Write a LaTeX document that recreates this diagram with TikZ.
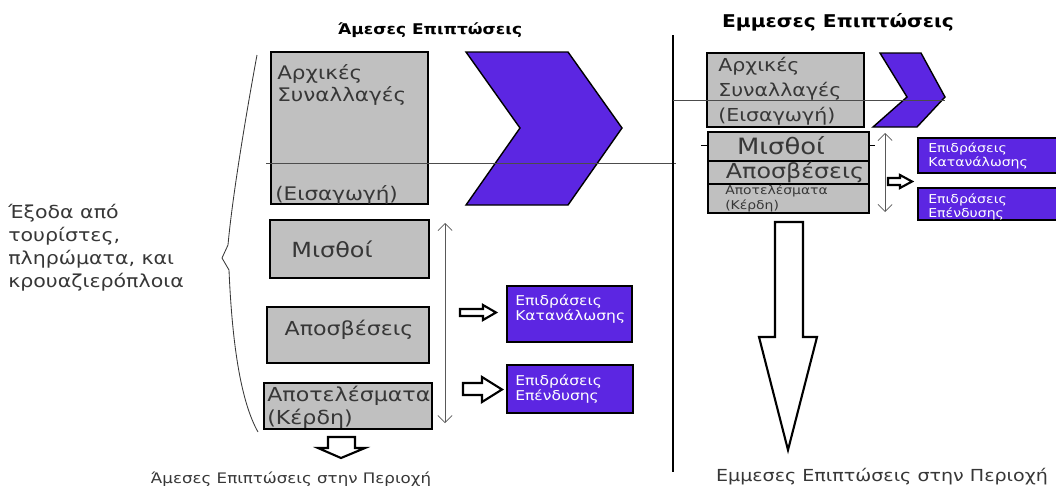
\documentclass[tikz,border=0pt]{standalone}
\usepackage{fontspec}
\setmainfont{DejaVu Sans}[FakeStretch=1.15]
\usetikzlibrary{fit,arrows.meta}
\definecolor{boxgrey}{RGB}{192,192,192}
\definecolor{chevpurple}{RGB}{92,38,226}
\definecolor{inkgrey}{RGB}{55,55,55}
\begin{document}
\begin{tikzpicture}[x=0.025cm,y=-0.025cm,
  every node/.style={inner sep=0pt},
  greybox/.style={draw=black,line width=1.5pt,fill=boxgrey,inner sep=0pt},
  purplebox/.style={draw=black,line width=1.2pt,fill=chevpurple,inner sep=0pt},
  chevron/.style={draw=black,line width=1pt,fill=chevpurple,line join=miter},
  boxtext/.style={text=inkgrey,align=left,font=\fontsize{13.3}{16}\selectfont},
  purpletext/.style={text=white,align=left,font=\fontsize{9.6}{11}\selectfont},
  blockarrow/.style={draw=black,line width=1.5pt,fill=white,line join=miter},
  rangearrow/.style={draw=gray!70!black,line width=0.5pt,{Straight Barb[length=5pt,width=10pt]}-{Straight Barb[length=5pt,width=10pt]}},
  crossline/.style={draw=gray!60!black,line width=0.6pt},
  title/.style={font=\bfseries\fontsize{10.5}{12}\selectfont,text=black}]
\useasboundingbox (0,0) rectangle (1056,488);
% left half: direct effects
\node[title] (ltitle) at (430,30) {Άμεσες Επιπτώσεις};
\node[greybox,fit={(271,52) (428,204)}] (linit) {};
\node[boxtext,anchor=north west] (linittop) at (277,64) {Αρχικές\\Συναλλαγές};
\node[boxtext,anchor=west] (linitbot) at (275,195) {(Εισαγωγή)};
\draw[chevron] (466,52) -- (568,52) -- (622,128) -- (568,205) -- (466,205) -- (520,128) -- cycle;
\coordinate (lline) at (266,163);
\coordinate (llineend) at (676,163);
\draw[crossline] (lline) -- (llineend);
\node[greybox,fit={(270,220) (429,278)}] (lwage) {};
\node[boxtext,font=\fontsize{14.8}{17}\selectfont] (lwaget) at (332,249) {Μισθοί};
\node[greybox,fit={(267,307) (429,363)}] (ldepr) {};
\node[boxtext,font=\fontsize{13.7}{17}\selectfont] (ldeprt) at (349,330) {Αποσβέσεις};
\node[greybox,fit={(264,383) (432,429)}] (lprof) {};
\node[boxtext,anchor=north west,font=\fontsize{13.7}{16}\selectfont] (lproft) at (267,386) {Αποτελέσματα\\(Κέρδη)};
\coordinate (lrtop) at (445,223);
\coordinate (lrbot) at (445,423);
\draw[rangearrow] (lrtop) -- (lrbot);
\node[purplebox,fit={(507,286) (632,342)}] (lcons) {};
\node[purpletext,anchor=west] (lconst) at (515,309) {Επιδράσεις\\Κατανάλωσης};
\node[purplebox,fit={(507,365) (633,413)}] (linv) {};
\node[purpletext,anchor=west] (linvt) at (515,389) {Επιδράσεις\\Επένδυσης};
\draw[blockarrow] (460,309) -- (483,309) -- (483,305) -- (496,312.5) -- (483,320) -- (483,316) -- (460,316) -- cycle;
\draw[blockarrow] (463,383) -- (482,383) -- (482,377) -- (502,389.5) -- (482,402) -- (482,395) -- (463,395) -- cycle;
\draw[blockarrow] (328,437) -- (355,437) -- (355,448) -- (365,448) -- (341,458) -- (318,448) -- (328,448) -- cycle;
\draw[draw=inkgrey,line width=0.6pt] (257,55) .. controls (245,120) and (232,200) .. (228,245) -- (222,258) -- (229,270) .. controls (232,340) and (240,400) .. (258,432);
\node[text=inkgrey,align=left,anchor=north west,font=\fontsize{12.7}{16.4}\selectfont] (spend) at (8,204) {Έξοδα από\\τουρίστες,\\πληρώματα, και\\κρουαζιερόπλοια};
\node[text=inkgrey,font=\fontsize{10.3}{12}\selectfont] (lbottom) at (291,479) {Άμεσες Επιπτώσεις στην Περιοχή};
% right half: indirect effects
\coordinate (dtop) at (673,35);
\coordinate (dbot) at (673,472);
\draw[line width=0.8pt] (dtop) -- (dbot);
\node[title,font=\bfseries\fontsize{12.5}{14}\selectfont] (rtitle) at (838,22) {Εμμεσες Επιπτώσεις};
\node[greybox,fit={(707,53) (864,127)}] (rinit) {};
\node[boxtext,anchor=north west,font=\fontsize{12.7}{17.8}\selectfont] (rinitt) at (718,57) {Αρχικές\\Συναλλαγές\\(Εισαγωγή)};
\draw[chevron] (880,53) -- (921,53) -- (945,97) -- (917,127) -- (873,127) -- (907,97) -- cycle;
\coordinate (rline) at (673,100);
\coordinate (rlineend) at (945,100);
\draw[crossline] (rline) -- (rlineend);
\node[greybox,fit={(708,132) (869,161)}] (rwage) {};
\node[boxtext,font=\fontsize{16}{18}\selectfont] (rwaget) at (781,146) {Μισθοί};
\node[greybox,fit={(708,161) (869,184)}] (rdepr) {};
\node[boxtext,font=\fontsize{14.7}{17}\selectfont] (rdeprt) at (795,172) {Αποσβέσεις};
\node[greybox,fit={(708,184) (869,213)}] (rprof) {};
\node[boxtext,anchor=north west,font=\fontsize{8.6}{10.5}\selectfont] (rproft) at (725,185) {Αποτελέσματα\\(Κέρδη)};
\draw[line width=1pt] (rwage.west) ++(-6,-1) -- ++(6,0);
\draw[line width=1pt] (rwage.east) ++(0,-1) -- ++(5,0);
\coordinate (rrtop) at (885,133);
\coordinate (rrbot) at (885,212);
\draw[rangearrow] (rrtop) -- (rrbot);
\draw[blockarrow] (888,178) -- (900,178) -- (900,175) -- (912,181.5) -- (900,188) -- (900,185) -- (888,185) -- cycle;
\node[purplebox,fit={(918,138) (1062,173)}] (rcons) {};
\node[purpletext,anchor=west,font=\fontsize{8.7}{10.5}\selectfont] (rconst) at (928,156) {Επιδράσεις\\Κατανάλωσης};
\node[purplebox,fit={(918,188) (1062,220)}] (rinv) {};
\node[purpletext,anchor=north west,font=\fontsize{8.7}{10.5}\selectfont] (rinvt) at (928,193) {Επιδράσεις\\Επένδυσης};
\draw[blockarrow] (775,222) -- (803,222) -- (803,337) -- (817,337) -- (788,450) -- (759,337) -- (775,337) -- cycle;
\node[text=inkgrey,font=\fontsize{11.8}{13}\selectfont] (rbottom) at (882,477) {Εμμεσες Επιπτώσεις στην Περιοχή};
\end{tikzpicture}
\end{document}
